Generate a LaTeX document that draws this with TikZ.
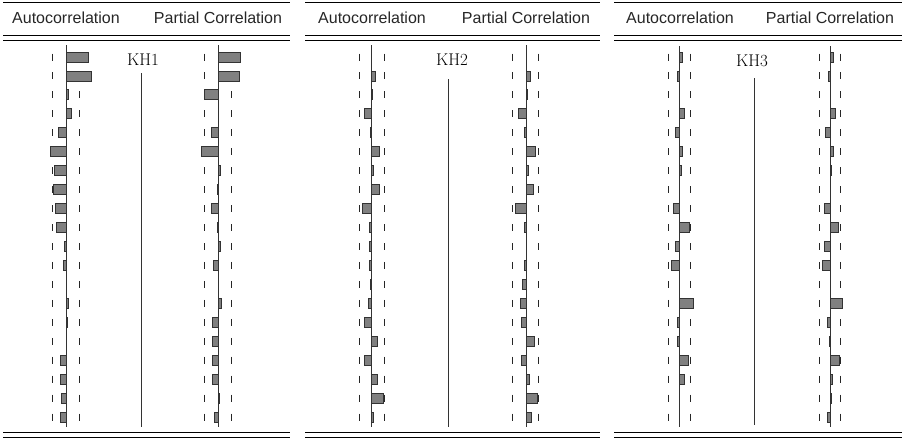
\documentclass[tikz,border=0pt]{standalone}
\usepackage{fontspec}
\setsansfont{Liberation Sans}
\begin{document}
\begin{tikzpicture}[x=1pt,y=-1pt,
  hdr/.style={font=\sffamily\fontsize{16}{16}\selectfont,text=black!85},
  kh/.style={font=\fontsize{17}{17}\selectfont},
  bar/.style={draw=black!80,fill=black!50,line width=0.9pt},
  tick/.style={line width=1pt,black!85},
  axisline/.style={line width=0.8pt,black!80}]
\useasboundingbox (0,0) rectangle (902,440);
\newcommand\panel[2]{%
  \draw[line width=0.8pt] (#1,2) -- (#2,2);
  \draw[line width=1pt] (#1,35.5) -- (#2,35.5) (#1,40) -- (#2,40);
  \draw[line width=1pt] (#1,432.5) -- (#2,432.5) (#1,437) -- (#2,437);
}
\newcommand\column[5]{% axis, left dash, right dash, values, ytop
  \foreach \v [count=\i] in {#4}{
    \pgfmathsetmacro\yy{57+(\i-1)*18.95}
    \draw[tick] (#2,\yy-3.5) -- (#2,\yy+3.5);
    \draw[tick] (#3,\yy-3.5) -- (#3,\yy+3.5);
    \draw[bar] (#1,\yy-5) rectangle (#1+\v,\yy+5);
  }
  \draw[axisline] (#1,#5) -- (#1,427);
}
% Panel 1
\panel{3}{290}
\node[hdr] (h1a) at (66,18) {Autocorrelation};
\node[hdr] (h1p) at (218,18) {Partial Correlation};
\column{66.7}{52}{79}{22,25,2,5,-8,-16,-12,-13,-11,-10,-2,-3,0,2,1,0,-6,-6,-5,-6}{45}
\column{218.3}{204}{231.7}{22,21,-14,0,-7,-17,2,-1,-7,-1,2,-5,0,3,-6,-6,-6,-6,1,-4}{45}
\node[kh] (k1) at (143,60) {KH1};
\draw[axisline] (141.7,73) -- (141.7,427);
% Panel 2
\panel{305}{600}
\node[hdr] (h2a) at (372,18) {Autocorrelation};
\node[hdr] (h2p) at (526,18) {Partial Correlation};
\column{371.7}{359}{384.3}{0,4,1,-7,-1,8,2,8,-9,-2,-2,-2,-1,-3,-7,6,-7,6,12,2}{45}
\column{526}{512.3}{538.7}{0,4,1,-8,-2,9,2,7,-11,-2,0,-2,-4,-6,-5,8,-5,3,11,5}{45}
\node[kh] (k2) at (452,60) {KH2};
\draw[axisline] (448.3,79) -- (448.3,427);
% Panel 3
\panel{614}{902}
\node[hdr] (h3a) at (680,18) {Autocorrelation};
\node[hdr] (h3p) at (830,18) {Partial Correlation};
\column{679.7}{668.7}{690.3}{3,-2,0,5,-4,3,2,0,-6,10,-4,-8,0,14,-2,-2,9,5,0,0}{46}
\column{830.3}{819.3}{840.3}{3,-2,0,5,-5,3,1,0,-6,8,-6,-8,0,12,-3,-1,9,2,1,-3}{46}
\node[kh] (k3) at (752,61) {KH3};
\draw[axisline] (754.7,78) -- (754.7,425);
\end{tikzpicture}
\end{document}
